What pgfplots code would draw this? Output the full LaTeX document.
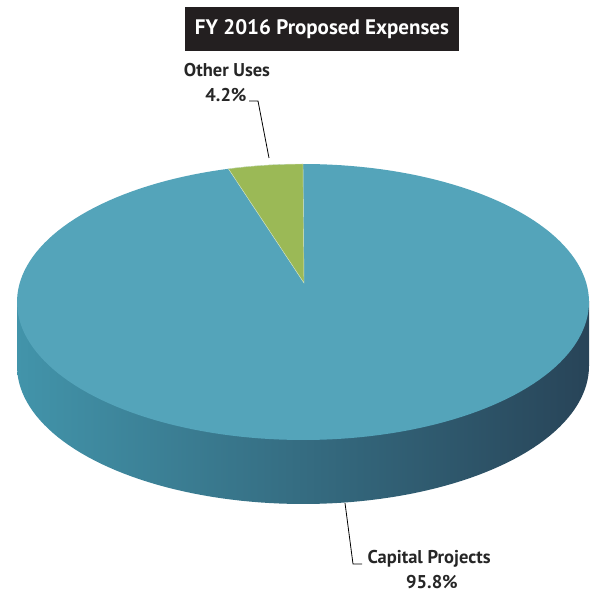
\documentclass[border=0pt]{standalone}
\usepackage{fontspec}
\setmainfont{PT Sans}
\usepackage{pgfplots}
\usepackage{pgfplotstable}
\pgfplotsset{compat=1.18}

\definecolor{topblue}{RGB}{84,164,186}
\definecolor{sideL}{RGB}{66,148,170}
\definecolor{sideM}{RGB}{58,118,140}
\definecolor{sideR}{RGB}{40,68,88}
\definecolor{othergreen}{RGB}{155,185,86}
\definecolor{titlebg}{RGB}{35,31,32}

% FY 2016 proposed expenses, share in percent
\pgfplotstableread{
label share
{Capital Projects} 95.8
{Other Uses} 4.2
}\expenses

\pgfplotstablegetelem{1}{share}\of\expenses
\let\othershare\pgfplotsretval
\pgfplotstablegetelem{0}{share}\of\expenses
\let\capshare\pgfplotsretval
% angular span of the small slice, starting at 12 o'clock and turning left
\pgfmathsetmacro{\gend}{90+3.6*\othershare}

% pie geometry (axis units)
\def\cx{303}\def\cy{292}\def\rx{286}\def\ry{138}\def\depth{64}
\def\apx{304}\def\apy{311}

\newcommand\lbl{\bfseries\fontsize{18.5}{20}\selectfont}

\begin{document}
\begin{tikzpicture}
\begin{axis}[
  width=590pt, height=594pt, scale only axis,
  xmin=0, xmax=590, ymin=0, ymax=594,
  hide axis, clip=false,
  /pgf/number format/assume math mode=true,
]
\coordinate (bl) at (rel axis cs:0,0);
\coordinate (tr) at (rel axis cs:1,1);
% side wall: lower face plus the band up to the top face
\addplot[draw=none, left color=sideL, middle color=sideM, right color=sideR,
  domain=0:360, samples=180]
  ({\cx+\rx*cos(x)}, {\cy-\depth+\ry*sin(x)});
\addplot[draw=none, left color=sideL, middle color=sideM, right color=sideR]
  coordinates {(\cx-\rx,\cy) (\cx+\rx,\cy) (\cx+\rx,\cy-\depth) (\cx-\rx,\cy-\depth)};
% top face: Capital Projects
\addplot[draw=none, fill=topblue, domain=0:360, samples=180]
  ({\cx+\rx*cos(x)}, {\cy+\ry*sin(x)});
% top face: Other Uses slice
\addplot[draw=white!70!othergreen, line width=0.4pt, fill=othergreen,
  samples at={-1,90,91,...,105,\gend}]
  ({x<0 ? \apx : \cx+\rx*cos(x)}, {x<0 ? \apy : \cy+\ry*sin(x)}) -- cycle;

% leader lines
\addplot[black, line width=0.8pt] coordinates {(249,493) (258,493) (269,436)};
\addplot[black, line width=0.8pt] coordinates {(345,91) (353,30) (362,30)};

% labels
\node[font=\lbl, text=black!85] at (axis cs:227,524) {Other Uses};
\node[font=\lbl, text=black!85] at (axis cs:226,499)
  {\pgfmathprintnumber[fixed,precision=1,fixed zerofill]{\othershare}\%};
\node[font=\lbl, text=black!85, anchor=west] at (axis cs:364,35) {Capital Projects};
\node[font=\lbl, text=black!85] at (axis cs:432,12)
  {\pgfmathprintnumber[fixed,precision=1,fixed zerofill]{\capshare}\%};

% title
\node[fill=titlebg, text=white, font=\bfseries\fontsize{21}{25}\selectfont,
  minimum width=274pt, minimum height=44pt, inner sep=0pt] at (axis cs:322,565)
  {FY 2016 Proposed Expenses};
\end{axis}
\pgfresetboundingbox
\path[use as bounding box] (bl) rectangle (tr);
\end{tikzpicture}
\end{document}
